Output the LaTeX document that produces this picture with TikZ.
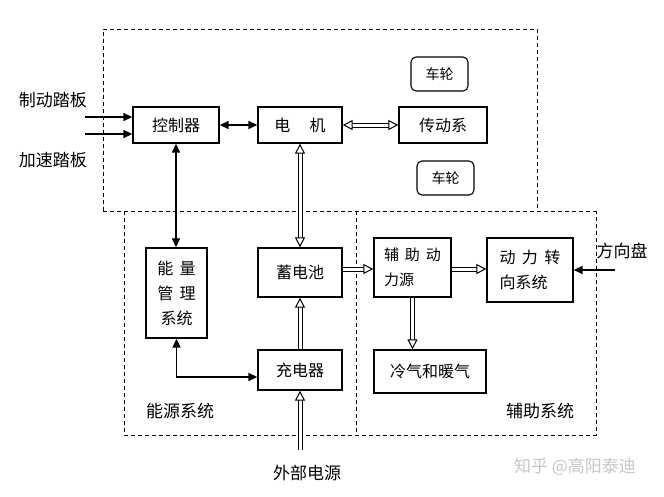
\documentclass[tikz,border=0pt]{standalone}
\usepackage{fontspec}
\newfontfamily\cjk{Noto Sans CJK SC}
\usetikzlibrary{arrows.meta,calc}
\begin{document}
\begin{tikzpicture}[x=1pt,y=-1pt,
  box/.style={draw, line width=1.3pt, inner sep=0pt, font=\cjk\fontsize{16}{25}\selectfont},
  wheel/.style={draw, line width=1.1pt, rounded corners=5pt, inner sep=0pt, minimum width=57pt, minimum height=34pt, font=\cjk\fontsize{14}{18}\selectfont},
  region/.style={draw, line width=0.8pt, dash pattern=on 4pt off 3pt},
  lab/.style={font=\cjk\fontsize{17}{20}\selectfont},
  sarrow/.style={draw, line width=1.4pt, -{Triangle[length=9pt,width=8pt]}},
  sboth/.style={draw, line width=1.4pt, {Triangle[length=9pt,width=8pt]}-{Triangle[length=9pt,width=8pt]}},
  darrow/.style={draw, line width=1pt, double distance=3pt, -{Triangle[open,length=10pt,width=10pt]}},
  dboth/.style={draw, line width=1pt, double distance=3pt, {Triangle[open,length=10pt,width=10pt]}-{Triangle[open,length=10pt,width=10pt]}}
]
\useasboundingbox (0,0) rectangle (664,496);
\fill[white] (0,0) rectangle (664,496);

% dashed regions
\draw[region] (103,211) -- (103,29) -- (537,29) -- (537,211);
\draw[region] (103,211) -- (596,211);
\draw[region] (124,211) -- (124,435) -- (596,435) -- (596,211);
\draw[region] (356,211) -- (356,435);

% nodes
\node[box, minimum width=86pt, minimum height=36pt] (ctrl) at (176,125) {控制器};
\node[box, minimum width=84pt, minimum height=36pt] (motor) at (300,125) {电\hspace{1.2em}机};
\node[box, minimum width=88pt, minimum height=36pt] (trans) at (443,125) {传动系};
\node[wheel] (w1) at (439.5,74) {车轮};
\node[wheel] (w2) at (445.5,178) {车轮};
\node[box, minimum width=61pt, minimum height=90pt, align=center] (ems) at (176.5,293) {能\hspace{0.4em}量\\管\hspace{0.4em}理\\系统};
\node[box, minimum width=84pt, minimum height=49pt] (batt) at (300,272.5) {蓄电池};
\node[box, minimum width=84pt, minimum height=40pt] (chg) at (300,370) {充电器};
\node[box, minimum width=77pt, minimum height=59pt, align=left, font=\cjk\fontsize{15}{25}\selectfont] (apu) at (412.5,267.5) {辅\hspace{0.4em}助\hspace{0.4em}动\\力源};
\node[box, minimum width=86pt, minimum height=64pt, align=left] (steer) at (530,270) {动\hspace{0.4em}力\hspace{0.4em}转\\向系统};
\node[box, minimum width=112pt, minimum height=43pt] (ac) at (430,371.5) {冷气和暖气};

% labels
\node[lab] (brake) at (53,100) {制动踏板};
\node[lab] (accel) at (53,160) {加速踏板};
\node[lab] (wheelin) at (622,251) {方向盘};
\node[lab] (esys) at (180,411) {能源系统};
\node[lab] (asys) at (540,411) {辅助系统};
\node[lab] (ext) at (307,473) {外部电源};
\node[font=\cjk\fontsize{17}{20}\selectfont, text=black!22] (wm) at (575,467) {知乎 @高阳泰迪};

% helper coordinates
\coordinate (p1) at (85,117);
\coordinate (p2) at (85,134);
\coordinate (r1) at (0,269);
\coordinate (sw) at (615,270);
\coordinate (ep) at (300,450);

% connectors
\draw[sarrow] (p1) -- (p1 -| ctrl.west);
\draw[sarrow] (p2) -- (p2 -| ctrl.west);
\draw[sboth] (ctrl.east) -- (motor.west);
\draw[dboth] (motor.east) -- (trans.west);
\draw[sboth] (ctrl.south) -- (ctrl.south |- ems.north);
\draw[dboth] (motor.south) -- (batt.north);
\draw[sboth] (ems.south) |- ($(chg.west)+(0,7)$);
\draw[darrow] (chg.north) -- (batt.south);
\draw[darrow] (ep) -- (chg.south);
\draw[darrow] (batt.east |- r1) -- (apu.west |- r1);
\draw[darrow] (apu.east |- r1) -- (steer.west |- r1);
\draw[darrow] (apu.south) -- (apu.south |- ac.north);
\draw[sarrow] (sw) -- (sw -| steer.east);
\end{tikzpicture}
\end{document}
